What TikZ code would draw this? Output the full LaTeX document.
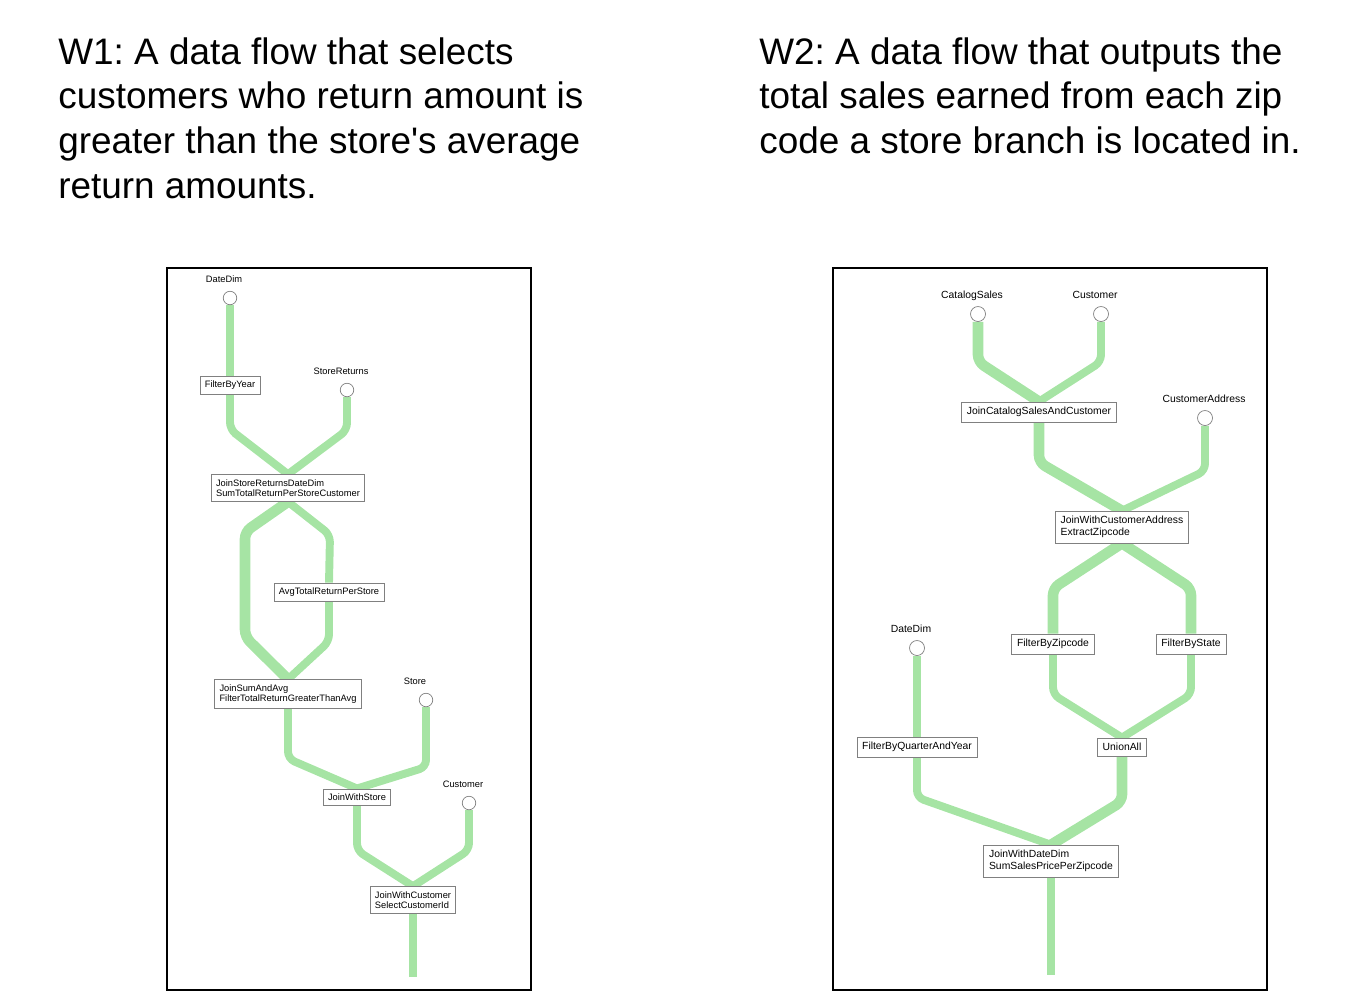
\documentclass[tikz,border=0pt]{standalone}
\usepackage{fontspec}
\setmainfont{Liberation Sans}
\usepackage{tikz}
\definecolor{flowgreen}{RGB}{166,228,164}
\usetikzlibrary{backgrounds}
\frenchspacing

\begin{document}
\begin{tikzpicture}[x=0.02cm, y=-0.02cm]
        \tikzset{op/.style={rectangle, draw=gray, fill=white, align=left, inner xsep=2.7pt, inner ysep=2.7pt},
                src/.style={circle, draw=gray, fill=white, inner sep=0pt, minimum size=0.27cm},
                every label/.style={inner sep=1pt, text depth=0.25ex, xshift=-0.12cm},
                label distance=2pt,
                flow/.style={draw=flowgreen, line width=4.5pt, rounded corners=4pt},
                fatflow/.style={flow, line width=6pt},
                frame/.style={draw=black, line width=1.1pt},
                title/.style={anchor=north west, inner sep=0pt, align=left, font=\fontsize{21}{25.5}\selectfont}}

        \useasboundingbox (0,0) rectangle (1355,1005);

        \node[title] (t1) at (58,37) {W1: A data flow that selects\\customers who return amount is\\greater than the store\textquotesingle s average\\return amounts.};
        \node[title] (t2) at (759,37) {W2: A data flow that outputs the\\total sales earned from each zip\\code a store branch is located in.};

        \draw[frame] (167,268) rectangle (531,990);
        \draw[frame] (833,268) rectangle (1267,990);

        \begin{scope}[every node/.append style={font=\fontsize{5.3}{6}\selectfont}]
        \node[src, label=above:DateDim] (dd1) at (230,298) {};
        \node[op] (fy) at (230,385) {FilterByYear};
        \node[src, label=above:StoreReturns] (sr) at (347,390) {};
        \node[op] (jsr) at (288,488) {JoinStoreReturnsDateDim\\SumTotalReturnPerStoreCustomer};
        \node[op] (avg) at (329,592) {AvgTotalReturnPerStore};
        \node[op] (jsa) at (288,694) {JoinSumAndAvg\\FilterTotalReturnGreaterThanAvg};
        \node[src, label={[xshift=-0.1cm]above:Store}] (st) at (426,700) {};
        \node[op] (jws) at (357,797) {JoinWithStore};
        \node[src, label=above:Customer] (cu1) at (469,803) {};
        \node[op] (jwc) at (413,900) {JoinWithCustomer\\SelectCustomerId};
        \coordinate (out1) at (413,977);
        \end{scope}

        \begin{scope}[every node/.append style={font=\fontsize{5.9}{6.6}\selectfont}, op/.append style={inner sep=3pt}, src/.append style={minimum size=0.3cm}]
        \node[src, label=above:CatalogSales] (cs) at (978,314) {};
        \node[src, label=above:Customer] (cu2) at (1101,314) {};
        \node[op] (jcs) at (1039,412) {JoinCatalogSalesAndCustomer};
        \node[src, label={[xshift=0.1cm]above:CustomerAddress}] (ca) at (1205,418) {};
        \node[op] (jca) at (1122,527) {JoinWithCustomerAddress\\ExtractZipcode};
        \node[op] (fz) at (1053,644) {FilterByZipcode};
        \node[op] (fs) at (1191,644) {FilterByState};
        \node[op] (ua) at (1122,747) {UnionAll};
        \node[src, label=above:DateDim] (dd2) at (917,648) {};
        \node[op] (fq) at (917,747) {FilterByQuarterAndYear};
        \node[op] (jwd) at (1051,861) {JoinWithDateDim\\SumSalesPricePerZipcode};
        \coordinate (out2) at (1051,975);
        \end{scope}

        \begin{scope}[on background layer]
        \draw[flow] (dd1) -- (fy);
        \draw[flow] (fy.south) -- ++(0,35) -- (jsr.north);
        \draw[flow] (sr.south) -- ++(0,33) -- (jsr.north);
        \draw[fatflow] (jsr.south) -- ++(-43,30) -- ++(0,105) -- (jsa.north);
        \draw[flow] (jsr.south) -- ++(42,33) -- (avg.north);
        \draw[flow] (avg.south) -- ++(0,40) -- (jsa.north);
        \draw[flow] (jsa.south) -- ++(0,50) -- (jws.north);
        \draw[flow] (st.south) -- ++(0,60) -- (jws.north);
        \draw[flow] (jws.south) -- ++(0,45) -- (jwc.north);
        \draw[flow] (cu1.south) -- ++(0,40) -- (jwc.north);
        \draw[flow] (jwc.south) -- (out1);

        \draw[fatflow] (cs.south) -- ++(0,40) -- (jcs.north);
        \draw[flow] (cu2.south) -- ++(0,40) -- (jcs.north);
        \draw[fatflow] (jcs.south) -- ++(0,40) -- (jca.north);
        \draw[flow] (ca.south) -- ++(0,45) -- (jca.north);
        \draw[fatflow] (jca.south) -- ++(-69,45) -- (fz.north);
        \draw[fatflow] (jca.south) -- ++(69,45) -- (fs.north);
        \draw[flow] (fz.south) -- ++(0,40) -- (ua.north);
        \draw[flow] (fs.south) -- ++(0,40) -- (ua.north);
        \draw[flow] (dd2) -- (fq);
        \draw[flow] (fq.south) -- ++(0,40) -- (jwd.north);
        \draw[fatflow] (ua.south) -- ++(0,45) -- (jwd.north);
        \draw[flow] (jwd.south) -- (out2);
        \end{scope}

    \end{tikzpicture}
\end{document}
